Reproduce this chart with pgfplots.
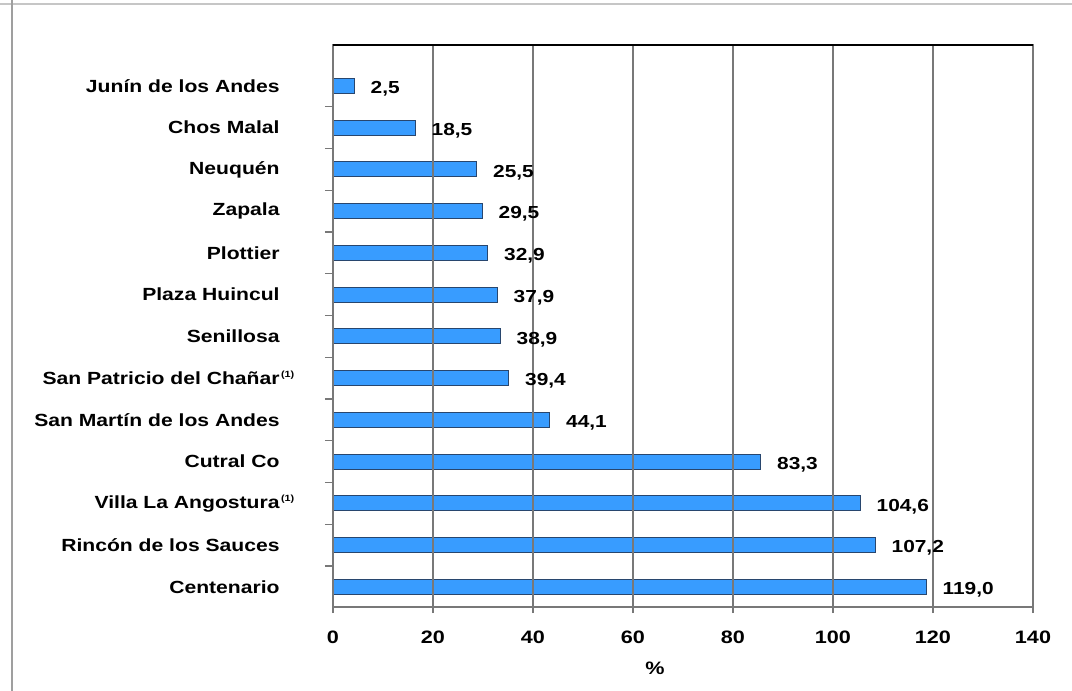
\documentclass[border=0pt]{standalone}
\usepackage{pgfplots}
\pgfplotsset{compat=1.18}
\usepackage{pgfplotstable}
\usepackage{fontspec}
\setmainfont[FakeStretch=1.2]{Liberation Sans}

\definecolor{barfill}{RGB}{56,156,255}
\definecolor{baredge}{RGB}{40,70,110}
\definecolor{gridgray}{RGB}{120,120,120}

% 1 px of the reference = 0.5pt
\newcommand\nota{\rlap{\raisebox{0.75ex}{\fontsize{4.5}{5}\selectfont\,(1)}}}

\pgfplotstableread{
y  x      label
0  118.7  119,0
1  108.5  107,2
2  105.5  104,6
3  85.6   83,3
4  43.4   44,1
5  35.2   39,4
6  33.5   38,9
7  32.9   37,9
8  31.0   32,9
9  29.9   29,5
10 28.8   25,5
11 16.5   18,5
12 4.3    2,5
}\datos

\begin{document}
\begin{tikzpicture}
\useasboundingbox (-166.5pt,-42pt) rectangle (369.5pt,303.5pt);
\draw[gray!45, line width=0.6pt] (-166.5pt,301.5pt) -- (369.5pt,301.5pt);
\draw[gray!75, line width=0.6pt] (-160.5pt,303.5pt) -- (-160.5pt,-42pt);
\begin{axis}[
    name=ax,
    at={(0,0)}, anchor=south west,
    scale only axis,
    width=350pt, height=281pt,
    xbar,
    bar width=7.5pt,
    xmin=0, xmax=140,
    ymin=-0.48, ymax=12.98,
    xtick={0,20,...,140},
    ytick={0,...,12},
    yticklabels={Centenario, Rincón de los Sauces, Villa La Angostura\nota,
        Cutral Co, San Martín de los Andes, San Patricio del Chañar\nota,
        Senillosa, Plaza Huincul, Plottier, Zapala, Neuquén, Chos Malal,
        Junín de los Andes},
    minor ytick={0.5,1.5,...,11.5},
    xtick pos=bottom, ytick pos=left,
    tick align=outside,
    major tick length=3pt,
    minor tick length=4pt,
    tick style={gridgray, line width=0.6pt},
    every major y tick/.append style={draw=none},
    xmajorgrids,
    major grid style={gridgray, line width=0.7pt},
    axis on top,
    axis line style={gridgray, line width=0.8pt},
    /pgf/number format/assume math mode=true,
    xticklabel style={font=\fontsize{9}{10}\selectfont\bfseries, inner sep=0pt, yshift=-9pt},
    yticklabel style={font=\fontsize{8.8}{10}\selectfont\bfseries, inner sep=0pt, anchor=east, xshift=-23.5pt},
    xlabel={\%},
    xlabel style={font=\fontsize{9}{10}\selectfont\bfseries, at={(axis description cs:0.46,0)}, anchor=center, yshift=-30.5pt},
    nodes near coords,
    point meta=explicit symbolic,
    every node near coord/.append style={font=\fontsize{8.7}{9}\selectfont\bfseries, black, anchor=west, xshift=4.5pt, yshift=-1.5pt},
]
\addplot[fill=barfill, draw=baredge, line width=0.5pt] table[x=x, y=y, meta=label] {\datos};
\end{axis}
\draw[black, line width=0.7pt] (ax.north west) -- (ax.north east);
\end{tikzpicture}
\end{document}
